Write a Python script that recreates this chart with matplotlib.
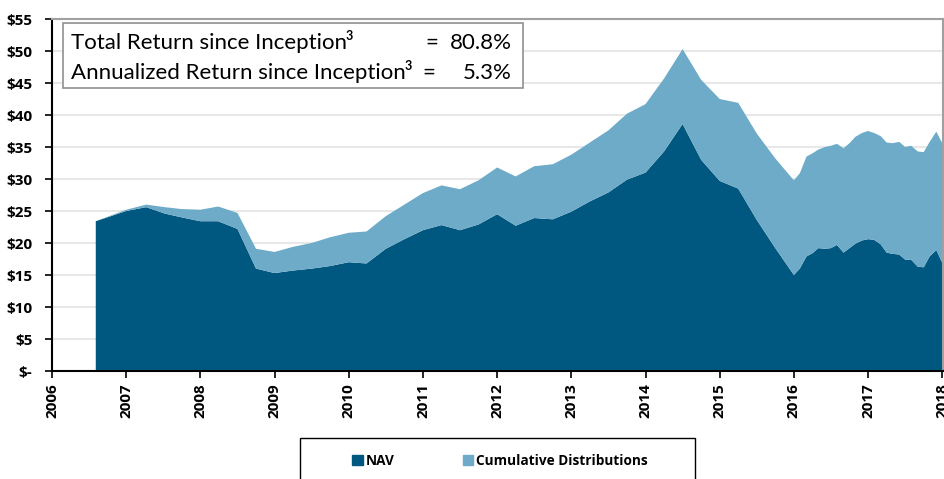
import matplotlib
matplotlib.use("Agg")
import matplotlib.pyplot as plt
from matplotlib.patches import Rectangle, Patch
import numpy as np

plt.rcParams['font.family'] = ['Lato', 'DejaVu Sans']

# decimal years, NAV and NAV + cumulative distributions ($)
years = [2006.59, 2007.0, 2007.27, 2007.52, 2007.75, 2008.0, 2008.24, 2008.5,
         2008.75, 2009.0, 2009.25, 2009.5, 2009.75, 2010.0, 2010.24, 2010.5,
         2010.75, 2011.0, 2011.25, 2011.5, 2011.75, 2012.0, 2012.25, 2012.5,
         2012.75, 2013.0, 2013.25, 2013.5, 2013.75, 2014.0, 2014.25, 2014.5,
         2014.75, 2015.0, 2015.25, 2015.5, 2015.75, 2016.0, 2016.08, 2016.17,
         2016.25, 2016.33, 2016.42, 2016.5, 2016.58, 2016.67, 2016.75, 2016.83,
         2016.92, 2017.0, 2017.08, 2017.17, 2017.25, 2017.33, 2017.42, 2017.5,
         2017.58, 2017.67, 2017.75, 2017.83, 2017.92, 2018.0]
nav = [23.4, 25.0, 25.6, 24.6, 24.0, 23.4, 23.4, 22.2,
       16.0, 15.3, 15.7, 16.0, 16.4, 17.0, 16.8, 19.1,
       20.6, 22.0, 22.8, 22.0, 22.9, 24.5, 22.7, 23.9,
       23.7, 24.9, 26.5, 27.9, 29.9, 31.0, 34.3, 38.6,
       33.0, 29.7, 28.5, 23.6, 19.2, 15.0, 16.0, 17.9,
       18.4, 19.2, 19.1, 19.2, 19.7, 18.5, 19.2, 19.9,
       20.4, 20.6, 20.5, 19.8, 18.5, 18.3, 18.2, 17.4,
       17.4, 16.3, 16.2, 17.9, 18.9, 16.9]
total = [23.4, 25.2, 26.0, 25.6, 25.3, 25.2, 25.7, 24.7,
         19.1, 18.6, 19.4, 20.0, 20.9, 21.6, 21.8, 24.2,
         26.0, 27.8, 29.0, 28.4, 29.8, 31.8, 30.4, 32.0,
         32.3, 33.8, 35.7, 37.6, 40.2, 41.7, 45.7, 50.3,
         45.5, 42.5, 41.9, 37.1, 33.2, 29.8, 30.9, 33.5,
         34.0, 34.6, 35.0, 35.2, 35.5, 34.8, 35.6, 36.6,
         37.2, 37.5, 37.2, 36.7, 35.7, 35.6, 35.8, 35.0,
         35.2, 34.3, 34.2, 35.8, 37.4, 35.6]
dist = list(np.array(total) - np.array(nav))

year_ticks = list(range(2006, 2019))
y_ticks = list(range(0, 56, 5))
y_labels = ['$-'] + ['$%d' % v for v in y_ticks[1:]]

c_nav = '#00577f'
c_dist = '#6dabc8'
tick_font = {'family': 'Open Sans', 'weight': 'bold', 'size': 11}

fig = plt.figure(figsize=(9.45, 4.79), dpi=100)
ax = fig.add_axes([52 / 945, 108 / 479, 891 / 945, 352 / 479])

ax.stackplot(years, nav, dist, colors=[c_nav, c_dist], linewidth=0)

ax.set_xlim(2006, 2018.01)
ax.set_ylim(0, 55)
ax.set_yticks(y_ticks)
ax.set_yticklabels(y_labels, fontdict=tick_font)
ax.set_xticks(year_ticks)
ax.set_xticklabels([str(y) for y in year_ticks], rotation=90, fontdict=tick_font)
ax.grid(axis='y', color='#e8e8e8', linewidth=1.5)
ax.set_axisbelow(True)
ax.tick_params(axis='both', direction='out', length=5, width=1.2, color='black')
ax.tick_params(axis='y', pad=9)
ax.tick_params(axis='x', pad=4)

for s in ['left', 'bottom']:
    ax.spines[s].set_color('black')
    ax.spines[s].set_linewidth(1.5)
for s in ['top', 'right']:
    ax.spines[s].set_color('#a0a0a0')
    ax.spines[s].set_linewidth(1.5)

# return summary box
ax.add_patch(Rectangle((2006.15, 44.2), 6.2, 10.2, transform=ax.transData,
                       facecolor='white', edgecolor='#909090', linewidth=1.2, zorder=5))
fs = 16
rows = [(51.3, 'Total Return since Inception', 2011.12, '80.8%'),
        (46.6, 'Annualized Return since Inception', 2011.08, '5.3%')]
fig.canvas.draw()
for yv, label, eq_x, val in rows:
    t = ax.text(2006.25, yv, label, fontsize=fs, va='center', zorder=6)
    bb = t.get_window_extent(renderer=fig.canvas.get_renderer())
    x_end = ax.transData.inverted().transform((bb.x1, bb.y1))[0]
    ax.text(x_end - 0.01, yv + 1.0, '3', fontsize=9, fontweight='bold',
            va='center', zorder=6)
    ax.text(eq_x, yv, '=', fontsize=fs, va='center', ha='center', zorder=6)
    ax.text(2012.2, yv, val, fontsize=fs, va='center', ha='right', zorder=6)

# legend box
fig.patches.append(Rectangle((300 / 945, -0.01), 395 / 945, (479 - 438) / 479 + 0.01,
                             transform=fig.transFigure, facecolor='white',
                             edgecolor='black', linewidth=1.0))
handles = [Patch(color=c_nav), Patch(color=c_dist)]
fig.legend(handles, ['NAV', 'Cumulative Distributions'], ncol=2,
           loc='center', bbox_to_anchor=(500 / 945, (479 - 461) / 479),
           frameon=False, prop={'family': 'Open Sans', 'weight': 'bold', 'size': 9.8},
           handlelength=0.8, handleheight=0.8, handletextpad=0.2, columnspacing=5.0)

fig.savefig('out.png', dpi=100)
